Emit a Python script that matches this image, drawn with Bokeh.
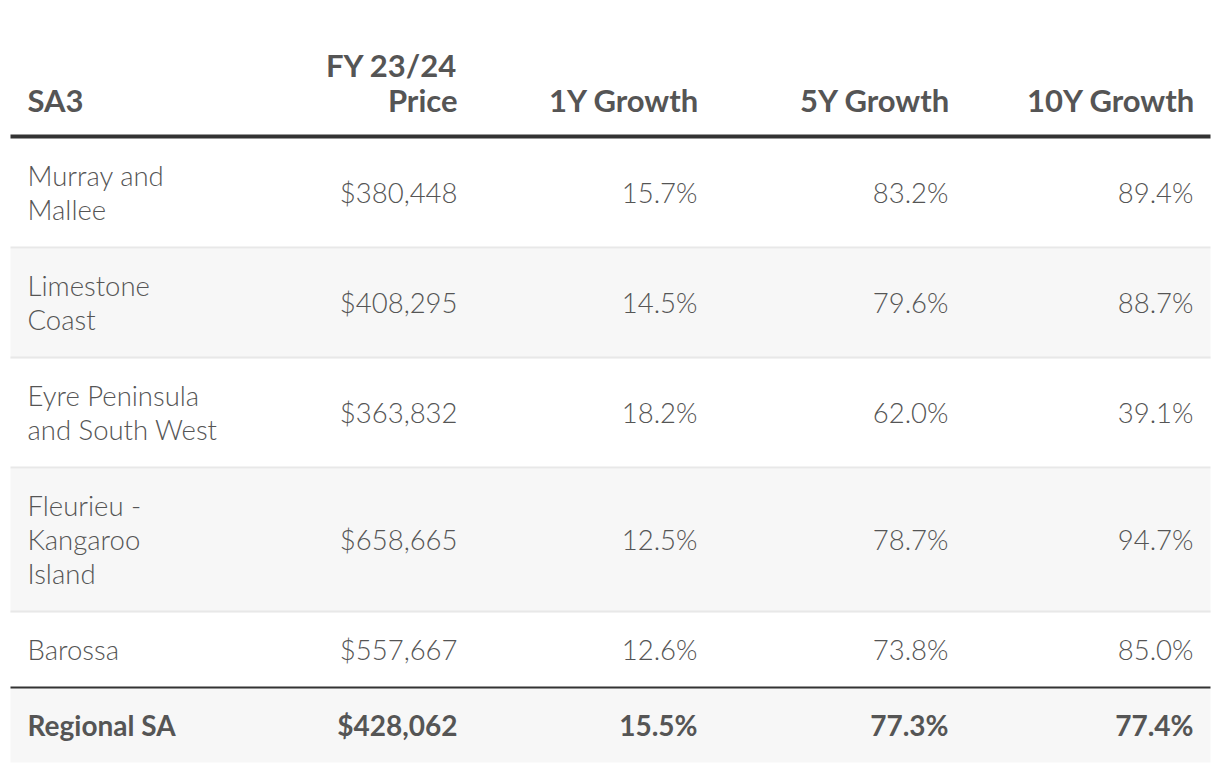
from bokeh.plotting import figure
from bokeh.models import Range1d, ColumnDataSource
from bokeh.core.properties import value
from bokeh.embed import file_html
from bokeh.resources import INLINE

# ---- data ----
headers = ["SA3", "FY 23/24\nPrice", "1Y Growth", "5Y Growth", "10Y Growth"]
regions = ["Murray and\nMallee", "Limestone\nCoast", "Eyre Peninsula\nand South West",
           "Fleurieu -\nKangaroo\nIsland", "Barossa"]
prices = [380448, 408295, 363832, 658665, 557667]
growth_1y = [15.7, 14.5, 18.2, 12.5, 12.6]
growth_5y = [83.2, 79.6, 62.0, 78.7, 73.8]
growth_10y = [89.4, 88.7, 39.1, 94.7, 85.0]
total_label = "Regional SA"
total_price = 428062
total_1y = 15.5
total_5y = 77.3
total_10y = 77.4

# ---- layout (figure pixel space, y downwards) ----
W, H = 1212, 764
TL, TR = 10, 1210
col_left = 27
col_right = [457, 697, 948, 1193]
header_nudge = [0, 0, 2, 2, 2]
header_line_y = 136
rows_top = 138
line_h = 34
pad = 42
text_dy = -2
body_dy = 0
TEXT = "#555555"
LIGHT_FONT = value("Lato Light")
BOLD_FONT = value("Lato")
FS = "27.5px"
TFS = "28px"
HFS = "31px"

p = figure(width=W, height=H, x_range=Range1d(0, W), y_range=Range1d(H, 0),
           output_backend="svg", toolbar_location=None, min_border=0)
p.axis.visible = False
p.grid.visible = False
p.outline_line_color = None
p.background_fill_color = "white"
p.border_fill_color = "white"

# compute row geometry
tops, bots, centers = [], [], []
y = rows_top
for name in regions:
    n = len(name.split("\n"))
    h = pad + line_h * n
    tops.append(y)
    bots.append(y + h)
    centers.append(y + h / 2 - 1)
    y += h
total_top = y - 1
total_bot = total_top + pad + line_h - 1
total_center = (total_top + total_bot) / 2 + 2

# row backgrounds
fills = ["white" if i % 2 == 0 else "#f7f7f7" for i in range(len(regions))]
p.quad(left=TL, right=TR, top=tops, bottom=bots, fill_color=fills, line_color=None)
p.quad(left=TL, right=TR, top=total_top, bottom=total_bot, fill_color="#f7f7f7", line_color=None)

# separators between body rows
sep_y = [b - 1 for b in bots[:-1]]
p.segment(x0=TL, x1=TR, y0=sep_y, y1=sep_y, line_color="#e8e8e8", line_width=2)
# header rule
p.segment(x0=TL, x1=TR, y0=header_line_y, y1=header_line_y, line_color="#333333", line_width=4)
# total rule
p.segment(x0=TL, x1=TR, y0=total_top, y1=total_top, line_color="#333333", line_width=2)

# headers
header_base = 101 + text_dy
hlh = 35
hx, hy, ht, ha = [], [], [], []
for j, htxt in enumerate(headers):
    parts = htxt.split("\n")
    for k, part in enumerate(parts):
        hy.append(header_base - hlh * (len(parts) - 1 - k))
        ht.append(part)
        if j == 0:
            hx.append(col_left)
            ha.append("left")
        else:
            hx.append(col_right[j - 1] + header_nudge[j])
            ha.append("right")
src_h = ColumnDataSource(dict(x=hx, y=hy, t=ht, a=ha))
p.text(x="x", y="y", text="t", text_align="a", source=src_h, text_baseline="middle",
       text_font=BOLD_FONT, text_font_style="bold", text_font_size=HFS, text_color=TEXT)

# body names
nx, ny, nt = [], [], []
for i, name in enumerate(regions):
    parts = name.split("\n")
    n = len(parts)
    for k, part in enumerate(parts):
        nx.append(col_left)
        ny.append(centers[i] + body_dy + (k - (n - 1) / 2) * line_h)
        nt.append(part)
p.text(x=nx, y=ny, text=nt, text_baseline="middle", text_align="left",
       text_font=LIGHT_FONT, text_font_size=FS, text_color=TEXT)

# body values
cols = [["${:,}".format(v) for v in prices],
        ["{:.1f}%".format(v) for v in growth_1y],
        ["{:.1f}%".format(v) for v in growth_5y],
        ["{:.1f}%".format(v) for v in growth_10y]]
vy = [c + body_dy for c in centers]
for j, c in enumerate(cols):
    p.text(x=[col_right[j]] * len(c), y=vy, text=c, text_baseline="middle",
           text_align="right", text_font=LIGHT_FONT, text_font_size=FS, text_color=TEXT)

# total row
ty = total_center + text_dy
p.text(x=[col_left], y=[ty], text=[total_label], text_baseline="middle",
       text_align="left", text_font=BOLD_FONT, text_font_style="bold", text_font_size=TFS,
       text_color=TEXT)
tot_vals = ["${:,}".format(total_price), "{:.1f}%".format(total_1y),
            "{:.1f}%".format(total_5y), "{:.1f}%".format(total_10y)]
p.text(x=col_right, y=[ty] * 4, text=tot_vals, text_baseline="middle",
       text_align="right", text_font=BOLD_FONT, text_font_style="bold", text_font_size=TFS,
       text_color=TEXT)

open("out.html", "w").write(file_html(p, INLINE))
